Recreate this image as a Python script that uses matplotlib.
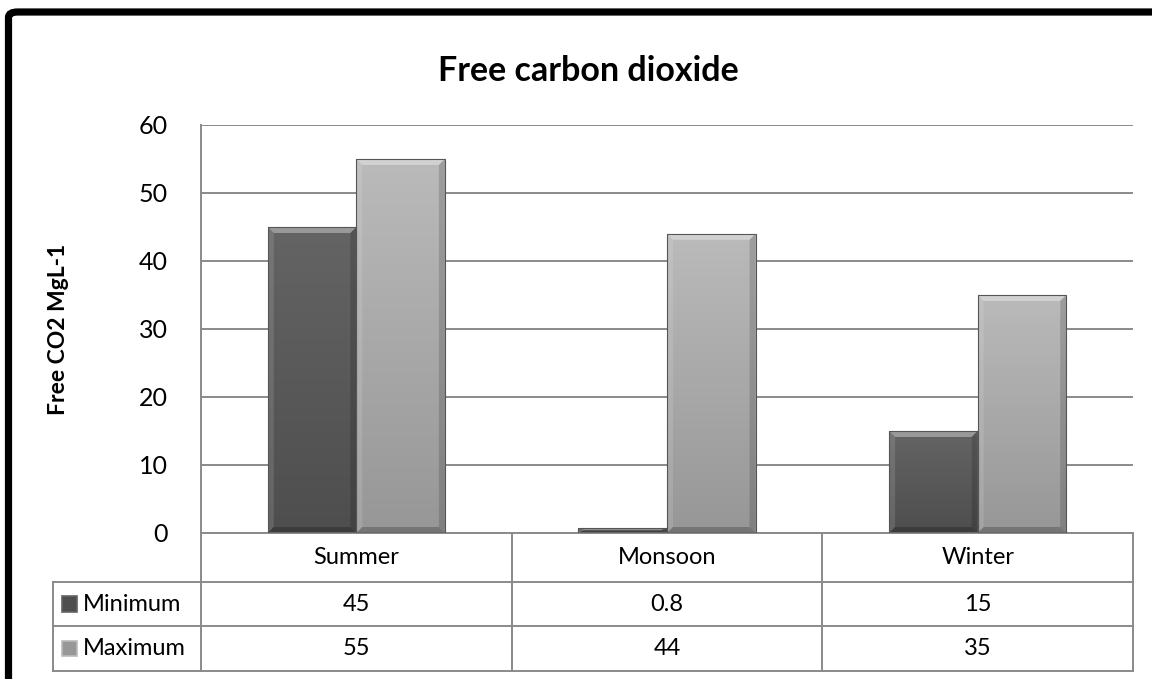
import numpy as np
import matplotlib.pyplot as plt
from matplotlib.patches import Rectangle, Polygon, FancyBboxPatch
from matplotlib.colors import LinearSegmentedColormap
from matplotlib.transforms import blended_transform_factory

plt.rcParams['font.family'] = ['Lato', 'DejaVu Sans']

# data
seasons = ['Summer', 'Monsoon', 'Winter']
series_names = ['Minimum', 'Maximum']
minimum = [45, 0.8, 15]
maximum = [55, 44, 35]
yticks = [0, 10, 20, 30, 40, 50, 60]

colors = {'Minimum': ('#646464', '#4e4e4e'), 'Maximum': ('#bababa', '#979797')}
grid_col = '#8a8a8a'

W, H = 1152, 679
fig = plt.figure(figsize=(W / 100, H / 100), dpi=100)

# plot area in pixels: x 201..1133, y 125..533
ax = fig.add_axes([201 / W, 1 - 533 / H, 932 / W, 408 / H])
ax.set_xlim(0, 3)
ax.set_ylim(0, 60)

for s in ['top', 'right', 'bottom']:
    ax.spines[s].set_visible(False)
ax.spines['left'].set_color(grid_col)
ax.spines['left'].set_linewidth(1.4)
ax.set_yticks(yticks)
ax.yaxis.grid(True, color=grid_col, linewidth=1.4)
ax.set_axisbelow(True)
ax.tick_params(axis='y', length=0, pad=24, labelsize=18)
ax.tick_params(axis='x', length=0, labelbottom=False)
ax.set_xticks([])
ax.set_ylabel('Free CO2 MgL-1', fontsize=16.5, fontweight='bold', labelpad=50)

# bars with vertical gradient and a soft bevel
bw = 0.285
bx = 6 / 310.7   # bevel size in data units (about 6 px)
by = 6 / 6.8
grad = np.linspace(0, 1, 100).reshape(-1, 1)
for j, (name, vals) in enumerate(zip(series_names, [minimum, maximum])):
    top_c, bot_c = colors[name]
    cmap = LinearSegmentedColormap.from_list(name, [bot_c, top_c])
    for i, v in enumerate(vals):
        x0 = i + 0.5 - bw + j * bw
        x1 = x0 + bw
        rect = Rectangle((x0, 0), bw, v, facecolor='none', edgecolor='#555555',
                         linewidth=0.8, zorder=4)
        ax.add_patch(rect)
        im = ax.imshow(grad, extent=(x0, x1, 0, v), origin='lower', cmap=cmap,
                       aspect='auto', zorder=2, interpolation='bicubic')
        im.set_clip_path(rect)
        d = min(by, v / 2)
        bevels = [
            ([(x0, v), (x1, v), (x1 - bx, v - d), (x0 + bx, v - d)], 'white', 0.35),
            ([(x0, 0), (x0, v), (x0 + bx, v - d), (x0 + bx, d)], 'white', 0.12),
            ([(x1, 0), (x1, v), (x1 - bx, v - d), (x1 - bx, d)], 'black', 0.15),
            ([(x0, 0), (x1, 0), (x1 - bx, d), (x0 + bx, d)], 'black', 0.22),
        ]
        for pts, c, a in bevels:
            ax.add_patch(Polygon(pts, closed=True, facecolor=c, alpha=a,
                                 edgecolor='none', zorder=3))
ax.set_xlim(0, 3)
ax.set_ylim(0, 60)

# data table below the axis
tr = blended_transform_factory(ax.transData, ax.transAxes)
row_y = [0, -0.1201, -0.228, -0.338]
left_x = -0.476
lkw = dict(color=grid_col, linewidth=1.4, transform=tr, clip_on=False)
ax.plot([0, 3], [row_y[0]] * 2, **lkw)
for y in row_y[1:]:
    ax.plot([left_x, 3], [y, y], **lkw)
ax.plot([left_x, left_x], [row_y[1], row_y[3]], **lkw)
for x in range(4):
    ax.plot([x, x], [row_y[0], row_y[3]], **lkw)

fs = 17
for i, s in enumerate(seasons):
    ax.text(i + 0.5, (row_y[0] + row_y[1]) / 2, s, transform=tr, ha='center',
            va='center', fontsize=fs)
for r, (name, vals) in enumerate(zip(series_names, [minimum, maximum])):
    yc = (row_y[r + 1] + row_y[r + 2]) / 2
    for i, v in enumerate(vals):
        ax.text(i + 0.5, yc, f'{v:g}', transform=tr, ha='center', va='center', fontsize=fs)
    top_c, bot_c = colors[name]
    ax.add_patch(Rectangle((left_x + 0.03, yc - 0.019), 0.048, 0.038, transform=tr,
                           facecolor=bot_c, edgecolor=top_c, linewidth=1.2, clip_on=False))
    ax.text(left_x + 0.095, yc, name, transform=tr, ha='left', va='center', fontsize=fs)

fig.text(588 / W, 1 - 71 / H, 'Free carbon dioxide', ha='center', va='center',
         fontsize=24.5, fontweight='bold')

# black chart frame (cut at right and bottom)
frame = FancyBboxPatch((8.5 / W, -0.1), 1.2, 1 - 12 / H + 0.1,
                       boxstyle='round,pad=0,rounding_size=0.008',
                       transform=fig.transFigure, facecolor='none',
                       edgecolor='black', linewidth=5.2, clip_on=False)
fig.patches.append(frame)

fig.savefig('out.png', dpi=100)
